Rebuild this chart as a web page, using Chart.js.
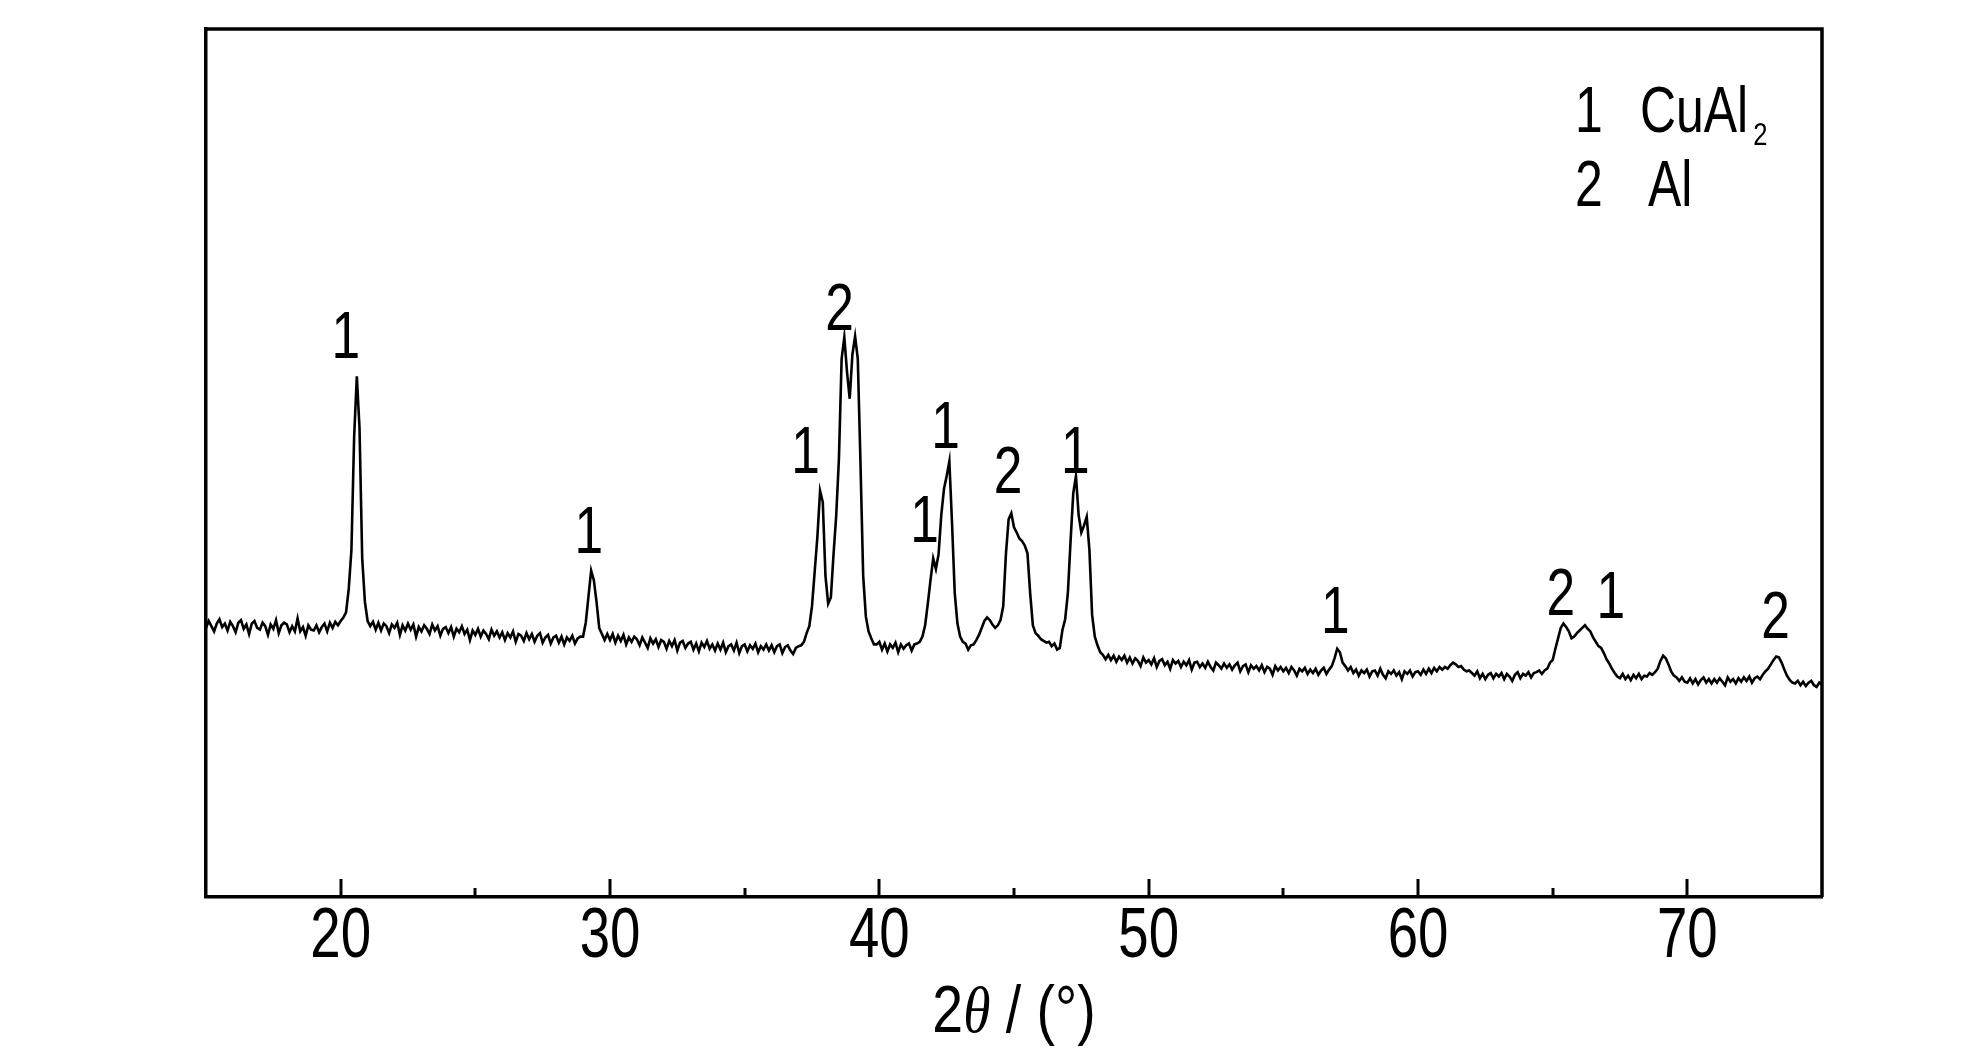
<!DOCTYPE html>
<html><head><meta charset="utf-8">
<script src="https://cdn.jsdelivr.net/npm/chart.js@4.4.1/dist/chart.umd.min.js"></script>
<style>html,body{margin:0;padding:0;background:#fff;overflow:hidden}canvas{display:block}</style>
</head><body>
<canvas id="c" width="1984" height="1063"></canvas>
<script>
// XRD scan: 2theta from 15 to 75 deg, step 0.1 deg
const scanStart = 15.0;
const scanStep = 0.1;
const intensity = [
31.0,31.8,31.2,30.6,31.5,32.0,31.1,31.5,30.7,31.7,
31.2,30.5,31.6,31.9,30.9,31.4,30.3,31.5,31.8,31.0,
30.8,31.6,31.2,30.2,31.4,30.9,31.9,30.4,31.3,31.6,
31.4,30.5,31.2,30.6,32.1,30.6,31.1,30.1,31.3,30.8,
30.7,31.3,30.5,31.1,31.5,30.6,31.6,31.0,31.7,31.3,
31.8,32.2,32.8,35.5,40.0,53.0,60.0,54.0,39.0,34.0,
31.8,31.2,31.7,30.8,31.6,30.7,31.5,31.2,30.4,31.4,
31.0,31.6,30.2,31.3,30.7,31.5,30.8,31.4,30.0,31.1,
30.6,31.3,30.9,30.3,31.4,30.7,31.2,30.1,30.9,31.1,
30.4,31.1,30.0,30.9,30.5,31.2,30.3,30.8,29.6,30.7,
30.2,30.9,30.0,30.7,30.3,29.7,30.8,30.1,30.6,29.9,
30.5,29.6,30.4,29.9,30.6,29.4,30.3,30.1,29.5,30.4,
29.7,30.3,29.4,30.1,30.4,29.3,29.9,30.2,29.2,29.9,
30.1,29.3,30.0,29.1,29.9,29.5,30.1,29.2,29.8,30.0,
30.0,31.6,34.6,37.6,36.5,34.0,31.0,30.3,29.6,30.3,
29.6,30.3,29.3,30.1,29.5,30.2,29.1,29.9,29.4,30.0,
29.7,29.0,29.9,29.3,28.7,29.8,29.2,29.7,28.8,29.6,
29.4,28.6,29.5,28.9,29.6,28.4,29.3,29.5,28.7,29.2,
29.4,28.5,29.2,28.3,29.3,28.8,29.5,28.6,29.1,28.4,
29.2,28.5,29.3,28.2,28.9,29.1,28.4,29.3,28.1,28.9,
29.1,28.3,29.0,28.6,29.2,28.2,28.9,28.5,29.1,28.4,
29.0,28.2,28.9,29.1,28.1,28.8,29.0,28.4,28.0,28.7,
28.9,29.0,29.4,30.4,31.2,33.5,37.5,41.5,46.8,45.5,
37.0,33.8,34.5,39.5,44.0,50.5,62.0,64.5,60.5,57.4,
62.5,64.6,62.0,50.0,37.0,32.3,30.6,29.8,29.1,29.1,
29.4,28.5,29.2,28.3,29.1,28.7,29.3,28.2,29.1,28.6,
29.0,29.2,28.4,29.1,29.2,29.4,30.0,31.3,33.8,36.5,
39.0,37.8,39.5,44.0,47.0,48.5,50.2,43.0,35.0,31.5,
30.0,29.4,29.2,28.5,29.0,29.1,29.6,30.2,31.0,31.8,
32.2,31.9,31.4,31.0,31.3,31.9,33.5,39.5,43.5,44.2,
42.6,42.0,41.3,41.0,40.5,39.6,35.0,31.3,30.4,30.1,
29.7,29.5,29.3,29.4,28.9,29.2,28.5,28.7,30.8,32.0,
35.0,41.0,46.5,48.5,44.0,42.0,42.8,43.8,40.0,32.5,
30.0,29.0,28.2,27.9,27.4,27.9,27.3,27.8,27.1,27.7,
27.3,27.8,27.0,27.6,26.9,27.5,27.2,26.6,27.6,27.0,
27.3,26.8,27.5,26.5,27.2,27.4,26.7,27.1,26.3,27.3,
26.9,27.2,26.5,27.1,26.7,27.3,26.2,27.0,27.1,26.5,
26.9,26.4,27.1,26.5,26.1,27.0,26.7,26.3,26.9,26.4,
26.8,26.2,26.7,27.0,26.0,26.6,26.8,25.9,26.7,26.3,
26.6,26.1,26.7,25.9,26.5,26.3,25.6,26.6,26.1,26.5,
26.0,26.4,25.8,26.5,26.1,25.5,26.3,26.0,26.4,25.7,
26.2,25.8,26.3,25.6,26.1,26.4,25.7,26.2,26.6,27.5,
28.6,28.2,27.0,26.6,26.1,26.5,25.8,26.2,25.5,26.1,
25.8,26.2,25.4,26.0,26.1,25.5,26.3,25.6,25.2,26.0,
25.7,26.1,25.5,25.9,25.1,26.0,25.7,26.1,25.4,25.9,
26.0,25.6,26.2,25.7,26.3,25.8,26.4,26.0,26.5,26.2,
26.5,26.3,26.7,27.0,26.8,26.5,26.6,26.2,26.0,26.1,
25.8,25.5,26.0,25.2,25.7,25.1,25.6,25.8,25.2,25.7,
25.4,25.8,25.1,25.7,25.4,24.9,25.6,25.9,25.2,25.7,
25.5,25.9,25.3,25.8,25.9,26.1,25.7,26.1,26.3,27.0,
27.3,28.6,29.8,31.0,31.5,31.1,30.6,29.8,30.0,30.4,
30.7,31.0,31.3,30.9,30.6,29.9,29.4,28.9,28.7,28.1,
27.4,26.9,26.3,25.8,25.4,25.2,25.7,25.1,25.5,25.0,
25.6,25.2,25.7,25.1,25.5,25.4,25.8,25.6,25.9,26.3,
27.2,27.8,27.5,26.8,26.0,25.5,25.3,24.9,25.3,24.8,
24.7,25.2,24.6,25.1,24.5,25.0,25.3,24.7,25.1,24.6,
25.1,24.7,25.2,24.8,24.4,25.3,24.8,25.1,24.6,25.2,
24.8,25.3,24.9,25.4,24.7,25.2,25.4,25.1,25.6,26.0,
26.3,26.8,27.3,27.7,27.6,27.0,26.2,25.5,25.0,24.7,
24.6,24.9,24.4,24.8,24.3,24.7,24.9,24.4,24.2,24.7,
24.5
];
const xMin = 15, xMax = 75;
const yMin = 0, yMax = 100;
const majorTicks = [20, 30, 40, 50, 60, 70];
const minorTicks = [25, 35, 45, 55, 65];
const tickLabels = ['20', '30', '40', '50', '60', '70'];
const titleParts = ['2', 'θ', ' / (°)'];
const peakLabelText = ['1', '1', '1', '2', '1', '1', '2', '1', '1', '2', '1', '2'];
const peakLabelX = [20.19, 29.21, 37.26, 38.52, 41.68, 42.46, 44.78, 47.28, 56.93, 65.30, 67.16, 73.28];
const peakLabelY = [62.1, 39.6, 48.8, 65.3, 40.9, 51.7, 46.5, 48.8, 30.4, 32.5, 32.1, 29.8];
const legendNumbers = ['1', '2'];
const legendPhases = ['CuAl', 'Al'];
const legendSubs = ['2', ''];

const points = intensity.map((v, i) => ({ x: +(scanStart + i * scanStep).toFixed(2), y: v }));

const SANS = '"Liberation Sans", Arial, sans-serif';
const SERIF = '"Liberation Serif", "Times New Roman", serif';
function txt(ctx, s, x, y, size, align, fam, italic, sx) {
  ctx.save();
  ctx.translate(x, y);
  ctx.scale(sx, 1);
  ctx.font = (italic ? 'italic ' : '') + size + 'px ' + fam;
  ctx.textAlign = align;
  ctx.textBaseline = 'alphabetic';
  ctx.fillStyle = '#000';
  ctx.fillText(s, 0, 0);
  ctx.restore();
}
function txtWidth(ctx, s, size, fam, italic, sx) {
  ctx.save();
  ctx.font = (italic ? 'italic ' : '') + size + 'px ' + fam;
  const w = ctx.measureText(s).width * sx;
  ctx.restore();
  return w;
}

const decor = {
  id: 'decor',
  afterDraw(chart) {
    const ctx = chart.ctx;
    const xs = chart.scales.x, ys = chart.scales.y;
    const a = chart.chartArea;
    ctx.save();
    ctx.strokeStyle = '#000';
    ctx.lineWidth = 3.5;
    ctx.beginPath();
    ctx.moveTo(a.left, a.top); ctx.lineTo(a.right, a.top); ctx.lineTo(a.right, a.bottom);
    ctx.stroke();
    ctx.lineWidth = 3;
    majorTicks.forEach(v => {
      const px = Math.round(xs.getPixelForValue(v));
      ctx.beginPath(); ctx.moveTo(px, a.bottom); ctx.lineTo(px, a.bottom - 18); ctx.stroke();
    });
    minorTicks.forEach(v => {
      const px = Math.round(xs.getPixelForValue(v));
      ctx.beginPath(); ctx.moveTo(px, a.bottom); ctx.lineTo(px, a.bottom - 9); ctx.stroke();
    });
    ctx.restore();
    majorTicks.forEach((v, i) => {
      txt(ctx, tickLabels[i], xs.getPixelForValue(v), a.bottom + 60, 70, 'center', SANS, false, 0.78);
    });
    const size = 66, sx = 0.84;
    const w0 = txtWidth(ctx, titleParts[0], size, SANS, false, sx);
    const w1 = txtWidth(ctx, titleParts[1], size, SERIF, true, sx);
    const w2 = txtWidth(ctx, titleParts[2], size, SANS, false, sx);
    let x0 = (a.left + a.right) / 2 - (w0 + w1 + w2) / 2;
    const by = a.bottom + 135;
    txt(ctx, titleParts[0], x0, by, size, 'left', SANS, false, sx);
    txt(ctx, titleParts[1], x0 + w0, by, size, 'left', SERIF, true, sx);
    txt(ctx, titleParts[2], x0 + w0 + w1, by, size, 'left', SANS, false, sx);
    peakLabelText.forEach((s, i) => {
      txt(ctx, s, xs.getPixelForValue(peakLabelX[i]), ys.getPixelForValue(peakLabelY[i]), 66, 'center', SANS, false, 0.78);
    });
    const lx = a.right - 247, lPhase = a.right - 182;
    const rows = [a.top + 103, a.top + 177];
    legendNumbers.forEach((n, i) => {
      txt(ctx, n, lx, rows[i], 64, 'left', SANS, false, 0.78);
      const off = i === 1 ? 8 : 0;
      txt(ctx, legendPhases[i], lPhase + off, rows[i], 64, 'left', SANS, false, 0.78);
      if (legendSubs[i]) {
        const pw = txtWidth(ctx, legendPhases[i], 64, SANS, false, 0.78);
        txt(ctx, legendSubs[i], lPhase + pw + 5, rows[i] + 13, 32, 'left', SANS, false, 0.8);
      }
    });
  }
};

new Chart(document.getElementById('c'), {
  type: 'line',
  data: {
    datasets: [{
      data: points,
      borderColor: '#000',
      borderWidth: 2.6,
      pointRadius: 0,
      tension: 0,
      fill: false
    }]
  },
  options: {
    responsive: false,
    animation: false,
    devicePixelRatio: 1,
    layout: { padding: { left: 206, right: 162, top: 29, bottom: 0 } },
    plugins: { legend: { display: false }, tooltip: { enabled: false } },
    scales: {
      x: {
        type: 'linear', position: 'bottom', min: xMin, max: xMax,
        grid: { display: false },
        border: { display: true, color: '#000', width: 3.5 },
        ticks: { display: false },
        afterFit(s) { s.height = 166; }
      },
      y: {
        type: 'linear', min: yMin, max: yMax,
        grid: { display: false },
        border: { display: true, color: '#000', width: 3.5 },
        ticks: { display: false },
        afterFit(s) { s.width = 0; }
      }
    }
  },
  plugins: [decor]
});
</script>
</body></html>
